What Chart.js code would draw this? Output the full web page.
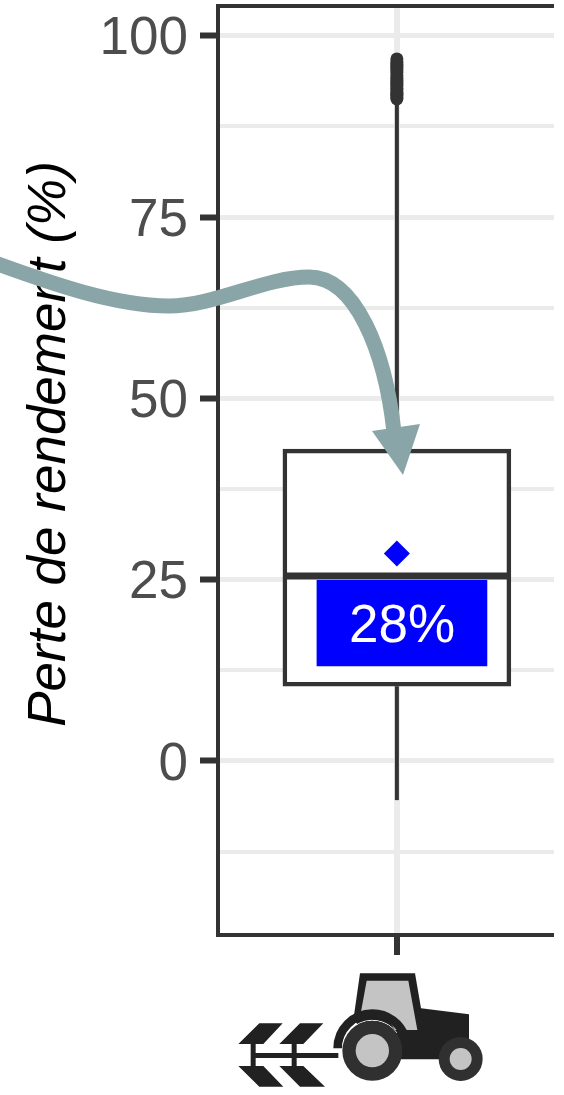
<!DOCTYPE html>
<html>
<head>
<meta charset="utf-8">
<title>Perte de rendement</title>
<script src="https://cdn.jsdelivr.net/npm/chart.js@4"></script>
<style>
  html, body { margin: 0; padding: 0; background: #fff; }
  canvas { display: block; }
</style>
</head>
<body>
<canvas id="chart-box" width="564" height="1095"></canvas>
<script>
const yTicks = [-12.5, 0, 12.5, 25, 37.5, 50, 62.5, 75, 87.5, 100];
const yLabels = [0, 25, 50, 75, 100];
const category = [1];
const boxRange = [10.3, 43];
const median = 25.5;
const whiskerLow = -5.4;
const whiskerHigh = 91;
const outliers = [91.3, 91.5, 91.8, 92, 92.2, 92.5, 92.8, 93.1, 93.3, 93.6, 93.9, 94.2, 94.5, 94.9, 95.2, 95.5, 95.8, 96.1, 96.4, 96.8];
const mean = 28.6;
const meanLabel = "28%";
const labelRange = [13.1, 24.9];
const yTitle = "Perte de rendement (%)";

const DARK = "#333333";
const FONT = "'Liberation Sans', Arial, sans-serif";

// fleche, titre et tracteur : dessines a la main par dessus le graphique
const decorations = {
  id: "decorations",
  afterDraw(chart) {
    const { ctx, chartArea, scales } = chart;
    ctx.save();

    // bords haut et bas du panneau
    ctx.strokeStyle = DARK;
    ctx.lineWidth = 4;
    ctx.beginPath();
    ctx.moveTo(chartArea.left - 2, chartArea.top);
    ctx.lineTo(chartArea.right, chartArea.top);
    ctx.moveTo(chartArea.left - 2, chartArea.bottom);
    ctx.lineTo(chartArea.right, chartArea.bottom);
    ctx.stroke();

    // texte de la moyenne
    ctx.fillStyle = "#ffffff";
    ctx.font = "53px " + FONT;
    ctx.textAlign = "center";
    ctx.textBaseline = "middle";
    ctx.fillText(meanLabel, 402, scales.y.getPixelForValue((labelRange[0] + labelRange[1]) / 2) + 4);

    // titre de l'axe y
    ctx.save();
    ctx.translate(50, 444);
    ctx.rotate(-Math.PI / 2);
    ctx.fillStyle = "#000000";
    ctx.font = "italic 53px " + FONT;
    ctx.fillText(yTitle, 0, 0);
    ctx.restore();

    // fleche
    ctx.strokeStyle = "#8aa5a7";
    ctx.fillStyle = "#8aa5a7";
    ctx.lineWidth = 15;
    ctx.stroke(new Path2D("M-5 263 C50 283 115 306 169 306 C215 306 265 277 309 277 C355 277 385 350 394 432"));
    ctx.fill(new Path2D("M403 475 L372 431 L420 424 Z"));

    drawTractor(ctx);
    ctx.restore();
  },
};

function drawTractor(ctx) {
  ctx.save();
  ctx.translate(220, 920);
  ctx.scale(1 / 3, 1 / 3);
  ctx.fillStyle = "#212121";
  ctx.fill(new Path2D("M420 160 L585 160 L603 265 L747 283 L747 380 L690 418 L520 418 L400 300 Z"));
  ctx.fillStyle = "#c4c4c4";
  ctx.fill(new Path2D("M440 182 L565 182 L592 330 L525 330 C500 285 460 265 423 275 Z"));
  // garde-boue
  ctx.strokeStyle = "#212121";
  ctx.lineWidth = 26;
  ctx.beginPath();
  ctx.arc(457, 385, 104, Math.PI, -0.1 * Math.PI);
  ctx.stroke();
  ctx.strokeStyle = "#ffffff";
  ctx.lineWidth = 3;
  ctx.beginPath();
  ctx.arc(457, 392, 91, 1.05 * Math.PI, 1.8 * Math.PI);
  ctx.stroke();
  // roues
  ctx.fillStyle = "#303030";
  ctx.beginPath();
  ctx.arc(457, 392, 90, 0, 2 * Math.PI);
  ctx.fill();
  ctx.beginPath();
  ctx.arc(722, 417, 66, 0, 2 * Math.PI);
  ctx.fill();
  ctx.fillStyle = "#c4c4c4";
  ctx.beginPath();
  ctx.arc(457, 392, 50, 0, 2 * Math.PI);
  ctx.fill();
  ctx.beginPath();
  ctx.arc(722, 417, 33, 0, 2 * Math.PI);
  ctx.fill();
  // charrue
  ctx.fillStyle = "#212121";
  ctx.fill(new Path2D("M100 399 H355 V414 H100 Z M92 370 H107 V440 H92 Z M215 370 H230 V440 H215 Z"));
  ctx.fill(new Path2D("M55 372 L118 310 L188 310 L130 372 Z M178 372 L240 310 L310 310 L250 372 Z"));
  ctx.fill(new Path2D("M55 438 L130 438 L190 500 L118 500 Z M178 438 L250 438 L315 500 L240 500 Z"));
  ctx.restore();
}

new Chart(document.getElementById("chart-box"), {
  type: "bar",
  data: {
    datasets: [
      {
        data: [{ x: category[0] + 0.017, y: labelRange }],
        backgroundColor: "#0000ff",
        borderWidth: 0,
        barThickness: 170,
        grouped: false,
        order: 1,
      },
      {
        data: [{ x: category[0], y: boxRange }],
        backgroundColor: "#ffffff",
        borderColor: DARK,
        borderWidth: 4.5,
        borderSkipped: false,
        barThickness: 228,
        grouped: false,
        order: 5,
      },
      {
        type: "scatter",
        showLine: true,
        data: [{ x: category[0] - 0.375, y: median }, { x: category[0] + 0.375, y: median }],
        borderColor: DARK,
        borderWidth: 7,
        pointRadius: 0,
        order: 2,
      },
      {
        type: "scatter",
        showLine: true,
        data: [{ x: category[0], y: whiskerLow }, { x: category[0], y: boxRange[0] }],
        borderColor: DARK,
        borderWidth: 4,
        pointRadius: 0,
        order: 4,
      },
      {
        type: "scatter",
        showLine: true,
        data: [{ x: category[0], y: boxRange[1] }, { x: category[0], y: whiskerHigh }],
        borderColor: DARK,
        borderWidth: 4,
        pointRadius: 0,
        order: 4,
      },
      {
        type: "scatter",
        data: outliers.map((v) => ({ x: category[0], y: v })),
        backgroundColor: DARK,
        borderWidth: 0,
        pointRadius: 6.5,
        order: 3,
      },
      {
        type: "scatter",
        data: [{ x: category[0], y: mean }],
        backgroundColor: "#0000ff",
        borderWidth: 0,
        pointStyle: "rectRot",
        pointRadius: 13,
        order: 0,
      },
    ],
  },
  plugins: [decorations],
  options: {
    responsive: false,
    animation: false,
    events: [],
    layout: { autoPadding: false, padding: { top: 6, right: 10, left: 0, bottom: 0 } },
    plugins: { legend: { display: false }, tooltip: { enabled: false } },
    scales: {
      x: {
        type: "linear",
        min: 0.4,
        max: 1.527,
        offset: false,
        afterBuildTicks(axis) {
          axis.ticks = category.map((v) => ({ value: v }));
        },
        afterFit(axis) {
          axis.height = 160;
          axis.paddingLeft = 0;
          axis.paddingRight = 0;
        },
        ticks: { display: false },
        grid: {
          offset: false,
          color: "#ebebeb",
          lineWidth: 6,
          tickColor: DARK,
          tickWidth: 6,
          tickLength: 20,
        },
        border: { display: false },
      },
      y: {
        min: -24,
        max: 104.1,
        afterBuildTicks(axis) {
          axis.ticks = yTicks.map((v) => ({ value: v }));
        },
        afterFit(axis) {
          axis.width = 218;
          axis.paddingTop = 0;
          axis.paddingBottom = 0;
        },
        ticks: {
          autoSkip: false,
          color: "#4d4d4d",
          padding: 12,
          labelOffset: 4,
          font: { family: FONT, size: 53 },
          callback: (value) => (yLabels.includes(value) ? String(value) : ""),
        },
        grid: {
          color: "#ebebeb",
          lineWidth: (c) => (c.tick && yLabels.includes(c.tick.value) ? 5 : 4),
          tickColor: (c) => (c.tick && yLabels.includes(c.tick.value) ? DARK : "rgba(0,0,0,0)"),
          tickWidth: 6,
          tickLength: 18,
        },
        border: { color: DARK, width: 4 },
      },
    },
  },
});
</script>
</body>
</html>
